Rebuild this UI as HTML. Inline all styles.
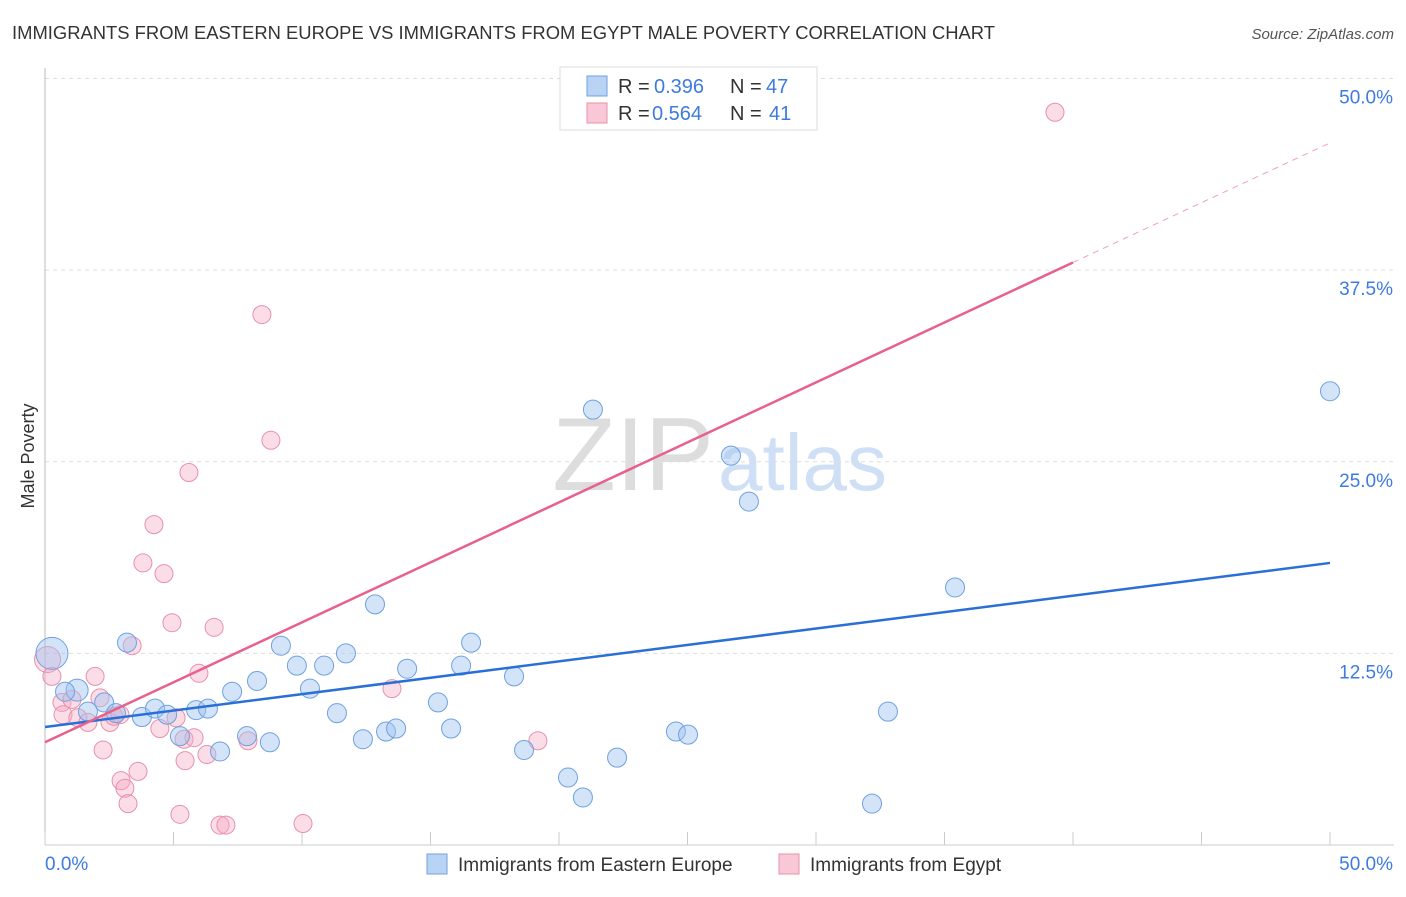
<!DOCTYPE html>
<html><head><meta charset="utf-8"><style>
body{margin:0;background:#fff;font-family:"Liberation Sans",sans-serif}
svg text{font-family:"Liberation Sans",sans-serif}
</style></head><body>
<svg id="c" width="1406" height="892">
<text x="12" y="39" font-size="18" fill="#333" textLength="983" lengthAdjust="spacingAndGlyphs">IMMIGRANTS FROM EASTERN EUROPE VS IMMIGRANTS FROM EGYPT MALE POVERTY CORRELATION CHART</text>
<text x="1394" y="39" font-size="15" fill="#555" text-anchor="end" font-style="italic">Source: ZipAtlas.com</text>
<text transform="translate(34,456) rotate(-90)" font-size="18" fill="#333" text-anchor="middle">Male Poverty</text>
<g><text x="714" y="490" font-size="104" fill="#ddd" text-anchor="end" font-family="Liberation Serif">ZIP</text><text x="718" y="490" font-size="80" fill="#cfe0f6">atlas</text></g>
<g id="grid"></g><g id="pts"></g><g id="lines"></g>
<g>
<rect x="560" y="67" width="257" height="63" fill="#fff" stroke="#ddd"/>
<rect x="587" y="76" width="20" height="20" fill="#b9d3f5" stroke="#6fa0e0"/>
<rect x="587" y="103" width="20" height="20" fill="#f9c8d6" stroke="#e890aa"/>
<text x="618" y="93" font-size="20" fill="#333">R =</text><text x="654" y="93" font-size="20" fill="#3d7be0">0.396</text>
<text x="730" y="93" font-size="20" fill="#333">N =</text><text x="766" y="93" font-size="20" fill="#3d7be0">47</text>
<text x="618" y="120" font-size="20" fill="#333">R =</text><text x="652" y="120" font-size="20" fill="#3d7be0">0.564</text>
<text x="730" y="120" font-size="20" fill="#333">N =</text><text x="769" y="120" font-size="20" fill="#3d7be0">41</text>
</g>
<g>
<rect x="427" y="854" width="20" height="20" fill="#b9d3f5" stroke="#6fa0e0"/>
<text x="458" y="871" font-size="19" fill="#333">Immigrants from Eastern Europe</text>
<rect x="779" y="854" width="20" height="20" fill="#f9c8d6" stroke="#e890aa"/>
<text x="810" y="871" font-size="19" fill="#333">Immigrants from Egypt</text>
</g>
</svg>
<script>
const blueX=[0.27,1.25,0.78,2.3,2.76,3.19,3.77,4.28,4.75,5.25,5.88,6.34,6.81,7.28,7.86,8.25,8.75,9.18,9.8,10.31,10.86,11.36,11.71,12.37,12.84,13.27,13.66,14.09,15.29,15.8,16.19,16.58,18.25,18.64,20.35,20.93,21.32,22.26,24.55,25.02,26.69,27.39,32.18,32.8,35.41,50.0,1.67];
const blueY=[12.5,10.1,10.0,9.3,8.6,13.2,8.35,8.9,8.5,7.1,8.8,8.9,6.1,10.0,7.1,10.7,6.7,13.0,11.7,10.2,11.7,8.6,12.5,6.9,15.7,7.4,7.6,11.5,9.3,7.6,11.7,13.2,11.0,6.2,4.4,3.1,28.4,5.7,7.4,7.2,25.4,22.4,2.7,8.7,16.8,29.6,8.7];
const pinkX=[0.1,0.27,0.66,1.05,0.7,1.28,1.67,1.95,2.14,2.26,2.53,2.68,2.96,3.11,3.23,3.39,3.62,3.81,4.24,4.47,4.63,4.94,5.1,5.25,5.41,5.6,5.8,5.99,6.3,6.58,6.81,7.04,7.9,8.44,8.79,10.04,13.5,19.18,39.3,5.45,2.92];
const pinkY=[12.1,11.0,9.3,9.5,8.5,8.3,8.0,11.0,9.6,6.2,8.0,8.4,4.2,3.7,2.7,13.0,4.8,18.4,20.9,7.6,17.7,14.5,8.3,2.0,6.9,24.3,7.0,11.2,5.9,14.2,1.3,1.3,6.8,34.6,26.4,1.4,10.2,6.8,47.8,5.5,8.5];
const blueTrend=[7.7,18.4];
const pinkTrend=[6.7,38.0,45.8];
const yTicks=[12.5,25,37.5,50];
const xTicks=[0,5,10,15,20,25,30,35,40,45,50];
const X=v=>45+v*25.7, Y=v=>845-v*15.33;
const NS='http://www.w3.org/2000/svg';
function mk(p,t,a){const e=document.createElementNS(NS,t);for(const k in a)e.setAttribute(k,a[k]);p.appendChild(e);return e;}
const g=document.getElementById('grid'),svg=document.getElementById('c');
yTicks.forEach(v=>{const l=mk(g,'line',{x1:45,x2:1394,y1:Y(v),y2:Y(v),stroke:'#ddd','stroke-dasharray':'4,4'});

const t=mk(g,'text',{x:1393,y:Y(v)+25,'font-size':19,fill:'#3d7be0','text-anchor':'end'});t.textContent=v.toFixed(1)+'%';
});
const ax=mk(g,'line',{x1:45,x2:1394,y1:845,y2:845,stroke:'#ccc'});
const ay=mk(g,'line',{x1:45,x2:45,y1:68,y2:845,stroke:'#bbb'});
xTicks.forEach(v=>{const l=mk(g,'line',{x1:X(v),x2:X(v),y1:832,y2:845,stroke:'#ccc'});});
[[0,'0.0%','start',45],[50,'50.0%','end',1393]].forEach(a=>{const t=mk(g,'text',{x:a[3],y:870,'font-size':19,fill:'#3d7be0','text-anchor':a[2]});t.textContent=a[1];});
const P=document.getElementById('pts');
pinkX.forEach((x,i)=>{const c=mk(P,'circle',{cx:X(x),cy:Y(pinkY[i]),r:i==0?13:9,fill:'rgba(245,170,195,0.4)',stroke:'#e890aa','stroke-width':1});
});
blueX.forEach((x,i)=>{const c=mk(P,'circle',{cx:X(x),cy:Y(blueY[i]),r:i==0?16:i==1?11:9.5,fill:'rgba(160,195,240,0.45)',stroke:'#6fa0e0','stroke-width':1});
});
const L=document.getElementById('lines');
let l1=mk(L,'line',{x1:X(0),y1:Y(blueTrend[0]),x2:X(50),y2:Y(blueTrend[1]),stroke:'#2a6fd6','stroke-width':2.5});

let l2=mk(L,'line',{x1:X(0),y1:Y(pinkTrend[0]),x2:X(40),y2:Y(pinkTrend[1]),stroke:'#e8608c','stroke-width':2.5});

let l3=mk(L,'line',{x1:X(40),y1:Y(pinkTrend[1]),x2:X(50),y2:Y(pinkTrend[2]),stroke:'#f0a0b8','stroke-width':1,'stroke-dasharray':'6,5'});

</script>
</body></html>
